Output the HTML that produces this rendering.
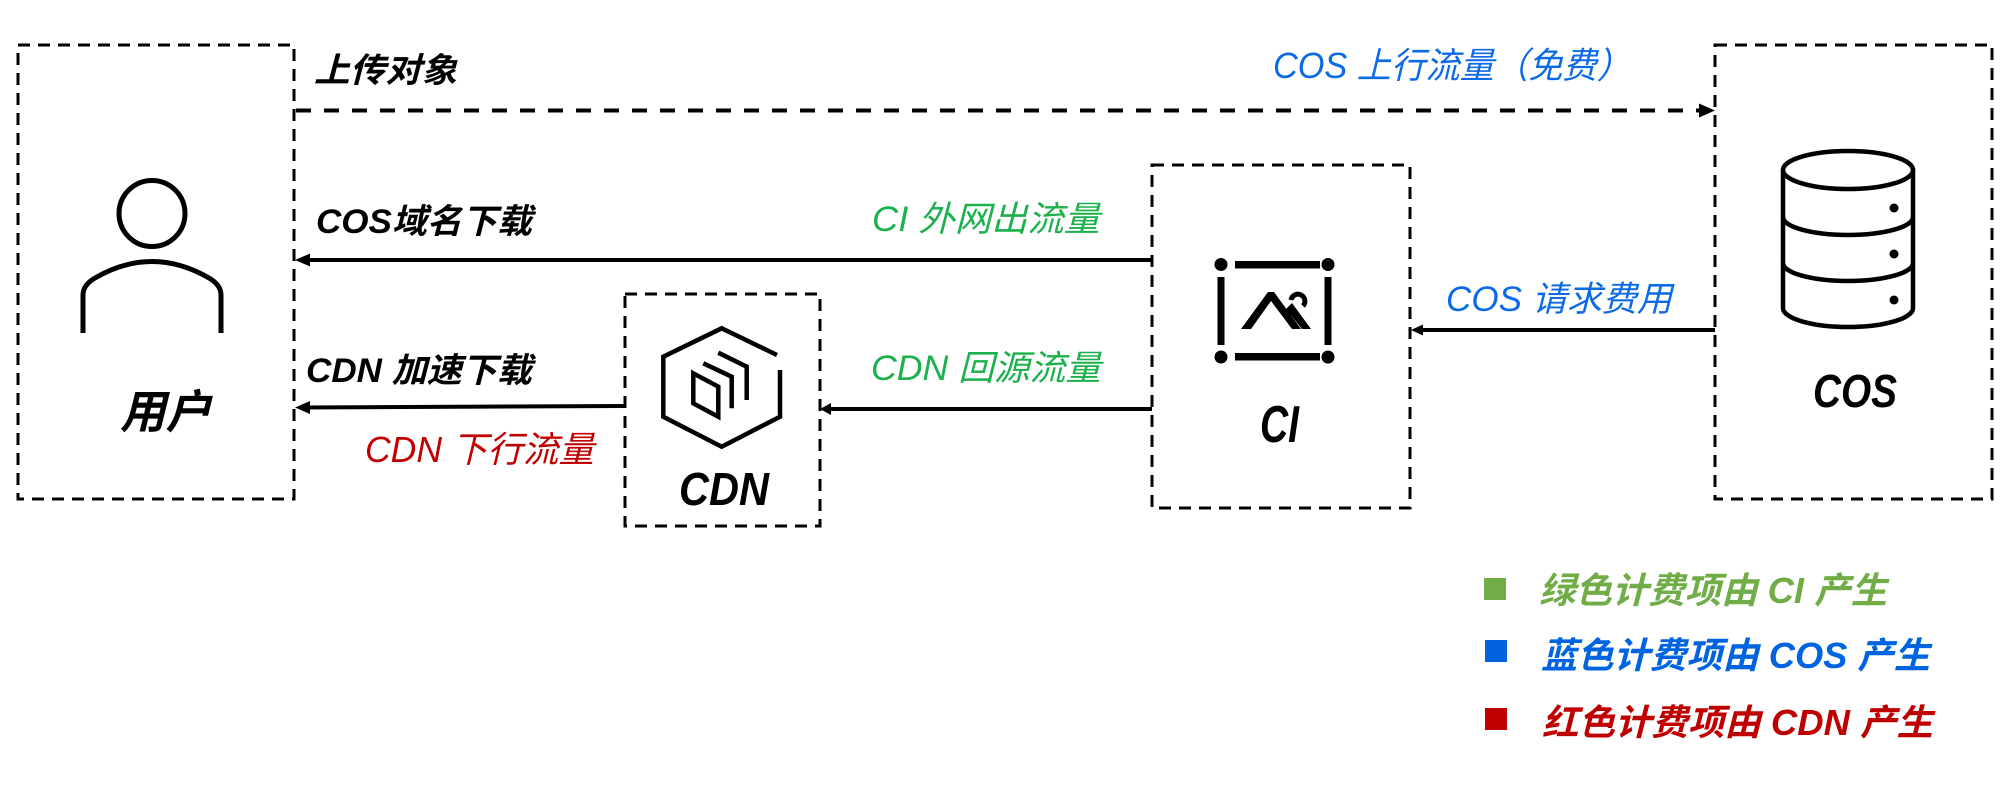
<!DOCTYPE html>
<html><head><meta charset="utf-8"><style>
html,body{margin:0;padding:0;background:#fff;}
svg{display:block;}
.b{font-family:"Liberation Sans","Noto Sans CJK SC",sans-serif;font-weight:bold;font-style:italic;fill:#000;}
.c{font-family:"Liberation Sans","Noto Sans CJK SC",sans-serif;font-weight:normal;font-style:italic;}
.lg{font-family:"Liberation Sans","Noto Sans CJK SC",sans-serif;font-weight:bold;font-style:italic;}
</style></head><body>
<svg width="2016" height="809" viewBox="0 0 2016 809" xmlns="http://www.w3.org/2000/svg">
<rect width="2016" height="809" fill="#fff"/>
<!-- boxes -->
<g fill="none" stroke="#000" stroke-width="3" stroke-dasharray="12 8">
<rect x="18" y="45" width="276" height="454"/>
<rect x="625" y="294" width="195" height="232"/>
<rect x="1152" y="165" width="258" height="343"/>
<rect x="1715" y="45" width="277" height="454"/>
</g>
<!-- upload arrow -->
<line x1="296" y1="110.5" x2="1700" y2="110.5" stroke="#000" stroke-width="4" stroke-dasharray="15 13"/>
<polygon points="1715,110.5 1699,103.5 1699,117.5" fill="#000"/>
<!-- COS domain download -->
<line x1="1152" y1="260" x2="305" y2="260" stroke="#000" stroke-width="4"/>
<polygon points="295,260 310,253.5 310,266.5" fill="#000"/>
<!-- CDN to user -->
<line x1="625" y1="406" x2="305" y2="407.5" stroke="#000" stroke-width="4"/>
<polygon points="295,407.5 310,401 310,414" fill="#000"/>
<!-- CI to CDN -->
<line x1="1152" y1="409" x2="828" y2="409" stroke="#000" stroke-width="4"/>
<polygon points="820,409 831,403 831,415" fill="#000"/>
<!-- COS to CI -->
<line x1="1715" y1="330" x2="1420" y2="330" stroke="#000" stroke-width="4"/>
<polygon points="1411,330 1423,324.5 1423,335.5" fill="#000"/>

<!-- user icon -->
<g fill="none" stroke="#000" stroke-width="5">
<circle cx="152" cy="213.5" r="33"/>
<path d="M83,333 V295 Q83,285 95,278 Q152,245 209,278 Q221,285 221,295 V333"/>
</g>

<!-- CDN icon -->
<g fill="none" stroke="#000" stroke-width="4.5" stroke-linejoin="miter">
<polyline points="777,355 721.7,328.3 663.3,356.7 663.3,416.7 721.7,446.7 780,416.7 780,370"/>
<polygon points="693.3,373.3 718.3,386.7 718.3,416.7 693.3,403.3"/>
<polyline points="703.3,363.3 731.7,376.7 731.7,408.3"/>
<polyline points="718.3,352.7 746.7,366.7 746.7,400"/>
</g>

<!-- CI icon -->
<g fill="#000">
<circle cx="1221" cy="264.5" r="6.5"/>
<circle cx="1328" cy="264.5" r="6.5"/>
<circle cx="1221" cy="357" r="6.5"/>
<circle cx="1328" cy="357" r="6.5"/>
<rect x="1235" y="261" width="85" height="7.5"/>
<rect x="1235" y="353" width="85" height="7.5"/>
<rect x="1217.5" y="277" width="7" height="68"/>
<rect x="1324.5" y="277" width="7" height="68"/>
<path d="M1241,329 L1268,292 L1274,292 L1301,329 L1292,329 L1271,301 L1251,329 Z"/>
<path d="M1286,309 L1292,303 L1311,329 L1302,329 Z"/>
</g>
<path d="M1291,300 A7,7 0 1 1 1303,306" fill="none" stroke="#000" stroke-width="5"/>

<!-- database icon -->
<g fill="none" stroke="#000" stroke-width="4.5">
<ellipse cx="1848" cy="170" rx="65" ry="19"/>
<path d="M1783,170 V308 A65,19 0 0 0 1913,308 V170"/>
<path d="M1783,217 A65,18 0 0 0 1913,217"/>
<path d="M1783,263 A65,18 0 0 0 1913,263"/>
</g>
<g fill="#000">
<circle cx="1894" cy="208" r="4.5"/>
<circle cx="1894" cy="254" r="4.5"/>
<circle cx="1894" cy="300" r="4.5"/>
</g>

<!-- black labels -->
<text class="b" x="314" y="82" font-size="34" textLength="143" lengthAdjust="spacingAndGlyphs">上传对象</text>
<text class="b" x="316" y="233" font-size="34" textLength="216" lengthAdjust="spacingAndGlyphs">COS域名下载</text>
<text class="b" x="306" y="382" font-size="34" textLength="226" lengthAdjust="spacingAndGlyphs">CDN 加速下载</text>
<text class="b" x="120" y="428" font-size="46" textLength="91" lengthAdjust="spacingAndGlyphs">用户</text>
<text class="b" x="679" y="505" font-size="46" textLength="90" lengthAdjust="spacingAndGlyphs">CDN</text>
<text class="b" x="1260" y="442" font-size="52" textLength="39" lengthAdjust="spacingAndGlyphs">CI</text>
<text class="b" x="1813" y="407" font-size="46" textLength="84" lengthAdjust="spacingAndGlyphs">COS</text>

<!-- colored labels -->
<text class="c" x="365" y="462" font-size="36" fill="#c00000" textLength="229" lengthAdjust="spacingAndGlyphs">CDN 下行流量</text>
<text class="c" x="872" y="231" font-size="35" fill="#1cb14c" textLength="228" lengthAdjust="spacingAndGlyphs">CI 外网出流量</text>
<text class="c" x="871" y="380" font-size="35" fill="#1cb14c" textLength="230" lengthAdjust="spacingAndGlyphs">CDN 回源流量</text>
<text class="c" x="1273" y="78" font-size="36" fill="#0d6ae6" textLength="358" lengthAdjust="spacingAndGlyphs">COS 上行流量（免费）</text>
<text class="c" x="1446" y="311" font-size="35" fill="#0d6ae6" textLength="226" lengthAdjust="spacingAndGlyphs">COS 请求费用</text>

<!-- legend -->
<rect x="1484" y="578" width="22" height="22" fill="#70ad47"/>
<rect x="1485" y="640" width="22" height="22" fill="#0063e0"/>
<rect x="1485" y="708" width="22" height="22" fill="#c00000"/>
<text class="lg" x="1539" y="603" font-size="36" fill="#70ad47" textLength="348" lengthAdjust="spacingAndGlyphs">绿色计费项由 CI 产生</text>
<text class="lg" x="1541" y="668" font-size="36" fill="#0063e0" textLength="389" lengthAdjust="spacingAndGlyphs">蓝色计费项由 COS  产生</text>
<text class="lg" x="1542" y="735" font-size="36" fill="#c00000" textLength="391" lengthAdjust="spacingAndGlyphs">红色计费项由 CDN  产生</text>
</svg>
</body></html>
